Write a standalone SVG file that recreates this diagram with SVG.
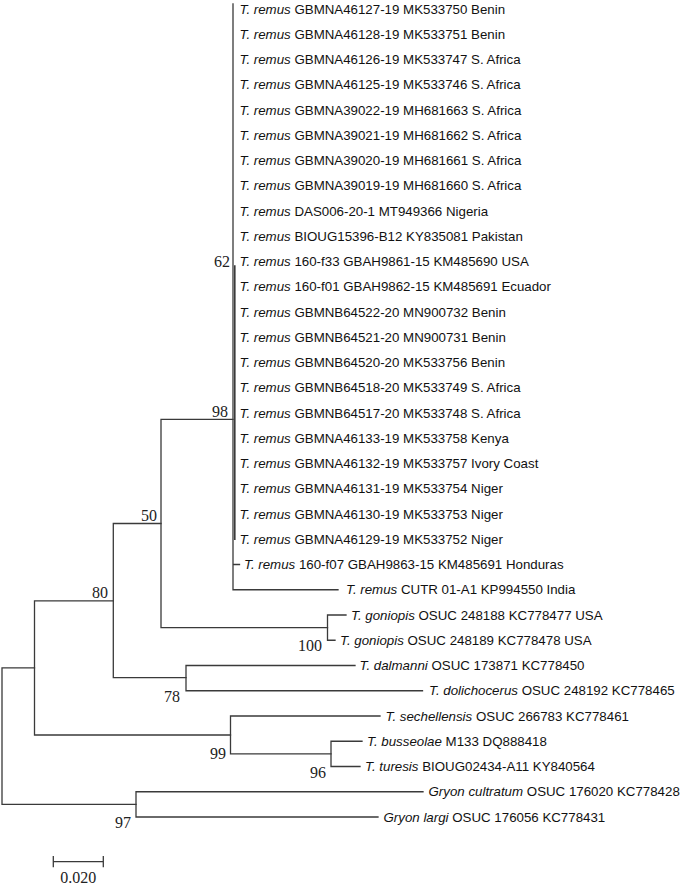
<svg xmlns="http://www.w3.org/2000/svg" width="684" height="886" viewBox="0 0 684 886">
<style>
.b{fill:none;stroke:#3a3a3a;stroke-width:1.3;stroke-linecap:square}
.t{font-family:"Liberation Sans",Arial,sans-serif;font-size:13.3px;fill:#111}
.i{font-style:italic}
.bs{font-family:"Liberation Serif","Times New Roman",serif;font-size:16px;fill:#222;text-anchor:end}
</style>
<rect width="684" height="886" fill="#fff"/>
<g id="connectors" class="b">
<path d="M2,667.9V804.4M2,667.9H34.5M2,804.4H136"/>
<path d="M34.5,600.8V735M34.5,600.8H113.3M34.5,735H230.5"/>
<path d="M113.3,523.5V677.6M113.3,523.5H161M113.3,677.6H186"/>
<path d="M161,419.3V627.6M161,419.3H233M161,627.6H327.5"/>
<path d="M233,4V589.75M233,589.75H338M233,564.5H239.5"/>
<path d="M234.8,266V539.2" style="stroke-width:1.6"/>
<path d="M327.5,615V640.25M327.5,615H346M327.5,640.25H335"/>
<path d="M186,665.5V690.75M186,665.5H355M186,690.75H422.5"/>
<path d="M230.5,716V753.9M230.5,716H380M230.5,753.9H331"/>
<path d="M331,741.25V766.5M331,741.25H362M331,766.5H360"/>
<path d="M136,791.75V817M136,791.75H423M136,817H378"/>
</g>
<g id="scale">
<path class="b" d="M53.3,861.7H103.3M53.3,856.7V866.7M103.3,856.7V866.7"/>
<text class="bs" x="78.3" y="883" style="text-anchor:middle">0.020</text>
</g>
<g id="node62"><text class="bs" x="230" y="267">62</text></g>
<g id="node98"><text class="bs" x="228" y="417">98</text></g>
<g id="node50"><text class="bs" x="157" y="521">50</text></g>
<g id="node80"><text class="bs" x="108" y="598">80</text></g>
<g id="node100"><text class="bs" x="322" y="651">100</text></g>
<g id="node78"><text class="bs" x="180" y="702">78</text></g>
<g id="node99"><text class="bs" x="226" y="759">99</text></g>
<g id="node96"><text class="bs" x="326" y="778">96</text></g>
<g id="node97"><text class="bs" x="131" y="828">97</text></g>
<g id="leaf1"><text class="t" x="239.5" y="13.6"><tspan class="i">T. remus</tspan> GBMNA46127-19 MK533750 Benin</text></g>
<g id="leaf2"><text class="t" x="239.5" y="38.85"><tspan class="i">T. remus</tspan> GBMNA46128-19 MK533751 Benin</text></g>
<g id="leaf3"><text class="t" x="239.5" y="64.1"><tspan class="i">T. remus</tspan> GBMNA46126-19 MK533747 S. Africa</text></g>
<g id="leaf4"><text class="t" x="239.5" y="89.35"><tspan class="i">T. remus</tspan> GBMNA46125-19 MK533746 S. Africa</text></g>
<g id="leaf5"><text class="t" x="239.5" y="114.6"><tspan class="i">T. remus</tspan> GBMNA39022-19 MH681663 S. Africa</text></g>
<g id="leaf6"><text class="t" x="239.5" y="139.85"><tspan class="i">T. remus</tspan> GBMNA39021-19 MH681662 S. Africa</text></g>
<g id="leaf7"><text class="t" x="239.5" y="165.1"><tspan class="i">T. remus</tspan> GBMNA39020-19 MH681661 S. Africa</text></g>
<g id="leaf8"><text class="t" x="239.5" y="190.35"><tspan class="i">T. remus</tspan> GBMNA39019-19 MH681660 S. Africa</text></g>
<g id="leaf9"><text class="t" x="239.5" y="215.6"><tspan class="i">T. remus</tspan> DAS006-20-1 MT949366 Nigeria</text></g>
<g id="leaf10"><text class="t" x="239.5" y="240.85"><tspan class="i">T. remus</tspan> BIOUG15396-B12 KY835081 Pakistan</text></g>
<g id="leaf11"><text class="t" x="239.5" y="266.1"><tspan class="i">T. remus</tspan> 160-f33 GBAH9861-15 KM485690 USA</text></g>
<g id="leaf12"><text class="t" x="239.5" y="291.35"><tspan class="i">T. remus</tspan> 160-f01 GBAH9862-15 KM485691 Ecuador</text></g>
<g id="leaf13"><text class="t" x="239.5" y="316.6"><tspan class="i">T. remus</tspan> GBMNB64522-20 MN900732 Benin</text></g>
<g id="leaf14"><text class="t" x="239.5" y="341.85"><tspan class="i">T. remus</tspan> GBMNB64521-20 MN900731 Benin</text></g>
<g id="leaf15"><text class="t" x="239.5" y="367.1"><tspan class="i">T. remus</tspan> GBMNB64520-20 MK533756 Benin</text></g>
<g id="leaf16"><text class="t" x="239.5" y="392.35"><tspan class="i">T. remus</tspan> GBMNB64518-20 MK533749 S. Africa</text></g>
<g id="leaf17"><text class="t" x="239.5" y="417.6"><tspan class="i">T. remus</tspan> GBMNB64517-20 MK533748 S. Africa</text></g>
<g id="leaf18"><text class="t" x="239.5" y="442.85"><tspan class="i">T. remus</tspan> GBMNA46133-19 MK533758 Kenya</text></g>
<g id="leaf19"><text class="t" x="239.5" y="468.1"><tspan class="i">T. remus</tspan> GBMNA46132-19 MK533757 Ivory Coast</text></g>
<g id="leaf20"><text class="t" x="239.5" y="493.35"><tspan class="i">T. remus</tspan> GBMNA46131-19 MK533754 Niger</text></g>
<g id="leaf21"><text class="t" x="239.5" y="518.6"><tspan class="i">T. remus</tspan> GBMNA46130-19 MK533753 Niger</text></g>
<g id="leaf22"><text class="t" x="239.5" y="543.85"><tspan class="i">T. remus</tspan> GBMNA46129-19 MK533752 Niger</text></g>
<g id="leaf23"><text class="t" x="244" y="569.1"><tspan class="i">T. remus</tspan> 160-f07 GBAH9863-15 KM485691 Honduras</text></g>
<g id="leaf24"><text class="t" x="346" y="594.35"><tspan class="i">T. remus</tspan> CUTR 01-A1 KP994550 India</text></g>
<g id="leaf25"><text class="t" x="351" y="619.6"><tspan class="i">T. goniopis</tspan> OSUC 248188 KC778477 USA</text></g>
<g id="leaf26"><text class="t" x="340" y="644.85"><tspan class="i">T. goniopis</tspan> OSUC 248189 KC778478 USA</text></g>
<g id="leaf27"><text class="t" x="359.5" y="670.1"><tspan class="i">T. dalmanni</tspan> OSUC 173871 KC778450</text></g>
<g id="leaf28"><text class="t" x="429" y="695.35"><tspan class="i">T. dolichocerus</tspan> OSUC 248192 KC778465</text></g>
<g id="leaf29"><text class="t" x="385.5" y="720.6"><tspan class="i">T. sechellensis</tspan> OSUC 266783 KC778461</text></g>
<g id="leaf30"><text class="t" x="367" y="745.85"><tspan class="i">T. busseolae</tspan> M133 DQ888418</text></g>
<g id="leaf31"><text class="t" x="365" y="771.1"><tspan class="i">T. turesis</tspan> BIOUG02434-A11 KY840564</text></g>
<g id="leaf32"><text class="t" x="428.5" y="796.35"><tspan class="i">Gryon cultratum</tspan> OSUC 176020 KC778428</text></g>
<g id="leaf33"><text class="t" x="383.5" y="821.6"><tspan class="i">Gryon largi</tspan> OSUC 176056 KC778431</text></g>
</svg>
